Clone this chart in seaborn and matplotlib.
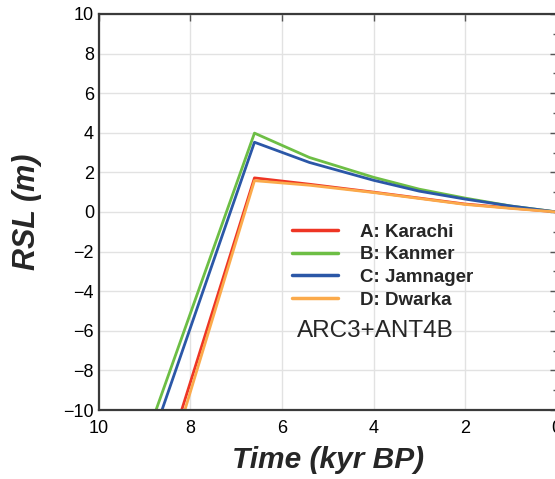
import numpy as np
import pandas as pd
import matplotlib
matplotlib.use('Agg')
import matplotlib.pyplot as plt
import seaborn as sns
from matplotlib.ticker import MultipleLocator

# ---- data ----
sites = ['A: Karachi', 'B: Kanmer', 'C: Jamnager', 'D: Dwarka']
colors = ['#EE3524', '#6DBE45', '#2B57A7', '#FBAA4B']

time_karachi = [8.19, 6.6, 5.4, 4.0, 3.0, 2.0, 1.0, 0.0]
rsl_karachi = [-10.0, 1.72, 1.40, 1.00, 0.70, 0.40, 0.20, 0.0]

time_kanmer = [8.75, 6.6, 5.4, 4.0, 3.0, 2.0, 1.0, 0.0]
rsl_kanmer = [-10.0, 3.98, 2.75, 1.75, 1.15, 0.70, 0.30, 0.0]

time_jamnager = [8.62, 6.6, 5.4, 4.0, 3.0, 2.0, 1.0, 0.0]
rsl_jamnager = [-10.0, 3.52, 2.50, 1.60, 1.05, 0.65, 0.30, 0.0]

time_dwarka = [8.12, 6.6, 5.4, 4.0, 3.0, 2.0, 1.0, 0.0]
rsl_dwarka = [-10.0, 1.58, 1.35, 0.98, 0.68, 0.38, 0.18, 0.0]

times = [time_karachi, time_kanmer, time_jamnager, time_dwarka]
rsls = [rsl_karachi, rsl_kanmer, rsl_jamnager, rsl_dwarka]

rows = []
for s, t, r in zip(sites, times, rsls):
    for ti, ri in zip(t, r):
        rows.append({'Site': s, 'Time': ti, 'RSL': ri})
df = pd.DataFrame(rows)

# ---- style ----
sns.set_style('white')
plt.rcParams['font.family'] = ['Liberation Sans', 'DejaVu Sans']

fig = plt.figure(figsize=(5.55, 4.79), dpi=100)
ax = fig.add_axes([0.178, 0.144, 0.825, 0.827])

sns.lineplot(data=df, x='Time', y='RSL', hue='Site', palette=colors,
             hue_order=sites, sort=False, estimator=None, linewidth=2.0,
             ax=ax)

ax.set_xlim(10, 0)
ax.set_ylim(-10, 10)
ax.xaxis.set_major_locator(MultipleLocator(2))
ax.yaxis.set_major_locator(MultipleLocator(2))
ax.yaxis.set_minor_locator(MultipleLocator(1))
ax.grid(True, which='major', color='#e2e2e2', linewidth=1.0)
ax.set_axisbelow(True)

for sp in ax.spines.values():
    sp.set_visible(True)
    sp.set_color('#3a3a3a')
    sp.set_linewidth(1.6)

ax.tick_params(which='both', direction='in', top=True, right=True,
               colors='#555555', labelcolor='black', labelsize=13)
ax.tick_params(which='major', length=5, width=1)
ax.tick_params(which='minor', length=3, width=1)
ax.tick_params(axis='x', pad=7)
ax.set_yticks(np.arange(-10, 11, 2))
ax.set_yticklabels([('\u2212' + str(-v)) if v < 0 else str(v)
                    for v in range(-10, 11, 2)])

ax.set_xlabel('Time (kyr BP)', fontsize=21.5, fontweight='bold',
              fontstyle='italic', labelpad=7)
ax.set_ylabel('RSL (m)', fontsize=22, fontweight='bold',
              fontstyle='italic', labelpad=15)

leg = ax.legend(loc='upper left', bbox_to_anchor=(0.405, 0.49),
                frameon=False, handlelength=2.45, handletextpad=1.2,
                labelspacing=0.3, borderaxespad=0,
                prop={'size': 13.5, 'weight': 'bold'})
for ln in leg.get_lines():
    ln.set_linewidth(2.5)

ax.text(0.433, 0.2, 'ARC3+ANT4B', transform=ax.transAxes,
        fontsize=17.5, va='center', ha='left')

fig.savefig('out.png', dpi=100)
